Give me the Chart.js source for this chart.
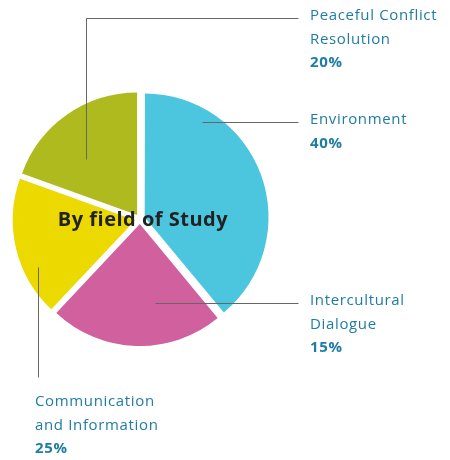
<!DOCTYPE html>
<html>
<head>
<meta charset="utf-8">
<script src="https://cdn.jsdelivr.net/npm/chart.js@4"></script>
<style>
  body { margin: 0; background: #fff; }
  #wrap { position: relative; width: 450px; height: 460px; }
  #wrap canvas { position: absolute; left: 0; top: 0; }
  .lbl { position: absolute; font-family: "Open Sans", sans-serif; font-size: 15px; line-height: 23.5px; color: #1f7ca2; letter-spacing: 0.65px; white-space: nowrap; }
  .lbl b { font-weight: 700; }
  #title { position: absolute; left: 0; width: 286px; top: 205px; text-align: center; font-family: "Open Sans", sans-serif; font-weight: 700; font-size: 20px; line-height: 27px; color: #222; letter-spacing: 0.5px; }
</style>
</head>
<body>
<div id="wrap">
  <canvas id="chart" width="450" height="460"></canvas>
  <div id="title">By field of Study</div>
</div>
<script>
// slices, clockwise from 12 o'clock
const fields = ["Environment", "Intercultural Dialogue", "Communication and Information", "Peaceful Conflict Resolution"];
const shares = [39, 23, 18.5, 19.5];              // slice sizes as drawn
const share_labels = ["40%", "15%", "25%", "20%"]; // printed percentages
const colors = ["#4cc5df", "#d0609e", "#ebd900", "#afba1f"];

// label text lines and where they sit
const label_lines = [
    ["Environment"],
    ["Intercultural", "Dialogue"],
    ["Communication", "and Information"],
    ["Peaceful Conflict", "Resolution"]
];
const label_pos = [[310, 107], [310, 288], [35, 389], [310, 3]];
// leader lines (polylines)
const leaders = [
    [[202, 122], [298, 122]],
    [[155, 302.5], [298, 302.5]],
    [[38, 267], [38, 377]],
    [[86, 159], [86, 18], [298, 18]]
];

let wrap = document.getElementById('wrap');
for (let i = 0; i < fields.length; i++) {
    let div = document.createElement('div');
    div.className = 'lbl';
    div.style.left = label_pos[i][0] + 'px';
    div.style.top = label_pos[i][1] + 'px';
    div.innerHTML = label_lines[i].join('<br>') + '<br><b>' + share_labels[i] + '</b>';
    wrap.appendChild(div);
}

const leader_plugin = {
    id: 'leaders',
    afterDatasetsDraw(chart) {
        let ctx = chart.ctx;
        ctx.save();
        ctx.strokeStyle = '#666';
        ctx.lineWidth = 1;
        for (let line of leaders) {
            ctx.beginPath();
            ctx.moveTo(Math.round(line[0][0]) + 0.5, Math.round(line[0][1]) + 0.5);
            for (let k = 1; k < line.length; k++) {
                ctx.lineTo(Math.round(line[k][0]) + 0.5, Math.round(line[k][1]) + 0.5);
            }
            ctx.stroke();
        }
        ctx.restore();
    }
};

new Chart(document.getElementById('chart').getContext('2d'), {
    type: 'pie',
    data: {
        labels: fields,
        datasets: [{
            data: shares,
            backgroundColor: colors,
            borderWidth: 0,
            offset: 20,
            hoverOffset: 20
        }]
    },
    options: {
        responsive: false,
        animation: false,
        events: [],
        radius: 122,
        layout: { padding: { left: 0, right: 170, top: 0, bottom: 22 } },
        plugins: {
            legend: { display: false },
            tooltip: { enabled: false }
        }
    },
    plugins: [leader_plugin]
});
</script>
</body>
</html>
